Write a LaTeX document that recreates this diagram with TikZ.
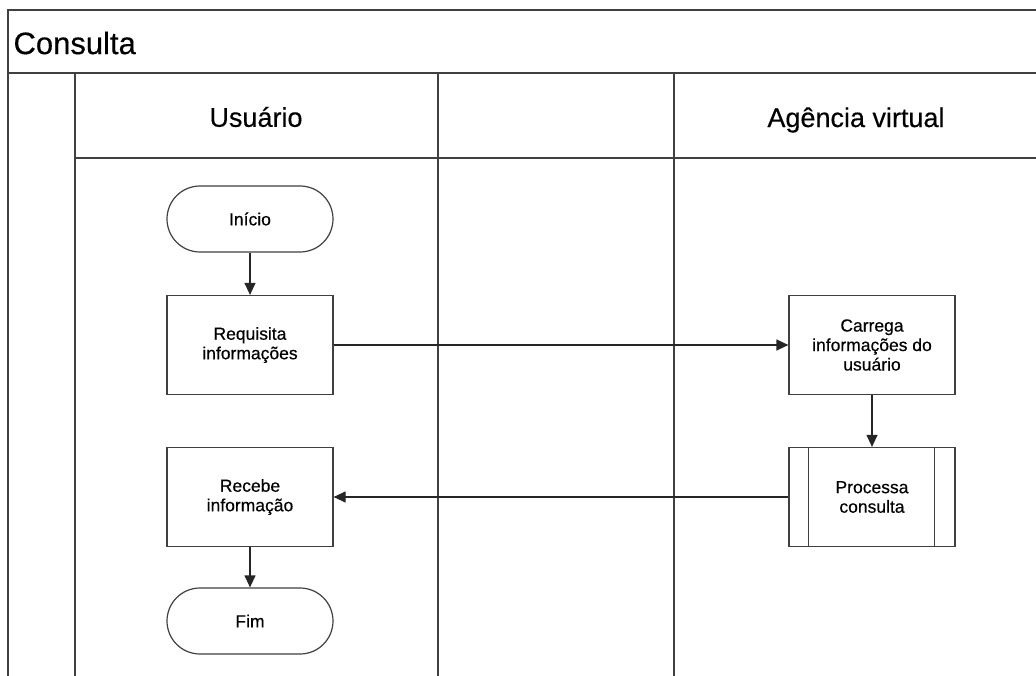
\documentclass[tikz,border=0pt]{standalone}
\usepackage{fontspec}
\setmainfont{Liberation Sans}[FakeBold=0.4]
\usetikzlibrary{arrows.meta}
\begin{document}
\begin{tikzpicture}[x=1pt,y=-1pt,
  frame/.style={draw=black!75,line width=1.3pt},
  box/.style={draw=black!75,line width=1.2pt,fill=white,minimum width=166pt,minimum height=99pt,
    align=center,font=\fontsize{17.5}{19.5}\selectfont,inner sep=2pt},
  terminal/.style={draw=black!75,line width=1.2pt,fill=white,minimum width=166pt,minimum height=66pt,
    rounded corners=33pt,align=center,font=\fontsize{17.5}{19.5}\selectfont},
  flow/.style={draw=black!85,line width=1.2pt,-{Triangle[length=12pt,width=11pt]}},
  lanehead/.style={font=\fontsize{27}{30}\selectfont},
  pooltitle/.style={font=\fontsize{31}{34}\selectfont,anchor=west}]
\useasboundingbox (0,0) rectangle (1036,676);
% pool frame, title band and lane header band
\draw[frame] (1036,10) -- (8,10) -- (8,676);
\draw[frame] (8,73) -- (1036,73);
\draw[frame] (75,158) -- (1036,158);
% lane separators
\draw[frame] (75,73) -- (75,676);
\draw[frame] (438,73) -- (438,676);
\draw[frame] (674,73) -- (674,676);
% titles
\node[pooltitle] (title) at (10,43) {Consulta};
\node[lanehead] (laneU) at (256,117) {Usuário};
\node[lanehead] (laneA) at (856,120) {Agência virtual};
% flow nodes
\node[terminal] (inicio) at (250,219) {Início};
\node[box] (req) at (250,345) {Requisita\\informações};
\node[box] (carrega) at (872,345) {Carrega\\informações do\\usuário};
\node[box] (proc) at (872,497) {Processa\\consulta};
\draw[draw=black!75,line width=1.2pt] ([xshift=20pt]proc.north west) -- ([xshift=20pt]proc.south west);
\draw[draw=black!75,line width=1.2pt] ([xshift=-21pt]proc.north east) -- ([xshift=-21pt]proc.south east);
\node[box] (recebe) at (250,497) {Recebe\\informação};
\node[terminal] (fim) at (250,621) {Fim};
% connectors
\draw[flow] (inicio) -- (req);
\draw[flow] (req) -- (carrega);
\draw[flow] (carrega) -- (proc);
\draw[flow] (proc.west) -- (recebe.east);
\draw[flow] (recebe) -- (fim);
\end{tikzpicture}
\end{document}
